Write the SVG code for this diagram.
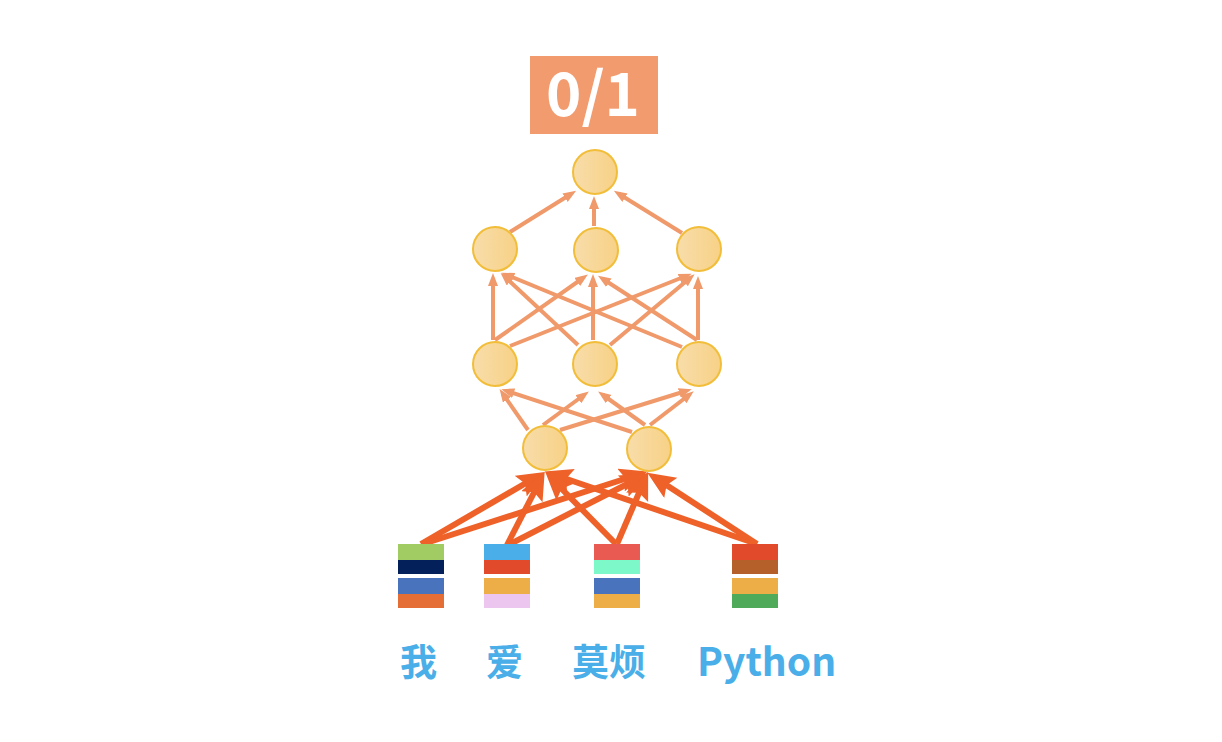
<svg xmlns="http://www.w3.org/2000/svg" width="1222" height="742" viewBox="0 0 1222 742">
<style>
.node{stroke:#F2BE3A;stroke-width:2;fill:url(#ng)}
.thin{stroke:#F0996A;stroke-width:4;fill:none;marker-end:url(#ah)}
.thick{stroke:#EE6128;stroke-width:6;fill:none;marker-end:url(#AH)}
.lbl{font-family:"Noto Sans CJK SC","Noto Sans",sans-serif;font-weight:bold;font-size:37px;fill:#4AAEE8}
</style>
<defs>
<linearGradient id="ng" x1="0" y1="0" x2="1" y2="0">
<stop offset="0" stop-color="#F8DDAA"/>
<stop offset="1" stop-color="#F7D186"/>
</linearGradient>
<marker id="ah" markerUnits="userSpaceOnUse" markerWidth="15" markerHeight="12" refX="7" refY="5" orient="auto">
<path d="M0,0 L13,5 L0,10 z" fill="#F0996A"/>
</marker>
<marker id="AH" markerUnits="userSpaceOnUse" markerWidth="30" markerHeight="26" refX="20" refY="12" orient="auto">
<path d="M0,0 L28,12 L0,24 L5,12 z" fill="#EE6128"/>
</marker>
</defs>
<rect width="1222" height="742" fill="#FFFFFF"/>
<g id="output">
<rect x="530" y="56" width="128" height="78" fill="#F29B6E"/>
<text x="593" y="116" text-anchor="middle" font-family="Noto Sans CJK SC, Noto Sans, sans-serif" font-weight="bold" font-size="60" fill="#FFFFFF">0/1</text>
</g>
<g id="connectors">
<line class="thin" x1="510" y1="232" x2="571" y2="194"/>
<line class="thin" x1="594" y1="226" x2="594" y2="202"/>
<line class="thin" x1="682" y1="233" x2="619" y2="194"/>
<line class="thin" x1="493" y1="340" x2="493" y2="279"/>
<line class="thin" x1="495" y1="340" x2="583" y2="278"/>
<line class="thin" x1="510" y1="346" x2="686" y2="276"/>
<line class="thin" x1="578" y1="345" x2="505" y2="277"/>
<line class="thin" x1="593" y1="340" x2="593" y2="280"/>
<line class="thin" x1="610" y1="345" x2="690" y2="278"/>
<line class="thin" x1="682" y1="347" x2="507" y2="275"/>
<line class="thin" x1="697" y1="340" x2="603" y2="279"/>
<line class="thin" x1="698" y1="340" x2="698" y2="282"/>
<line class="thin" x1="528" y1="430" x2="503" y2="394"/>
<line class="thin" x1="543" y1="425" x2="584" y2="395"/>
<line class="thin" x1="560" y1="430" x2="686" y2="391"/>
<line class="thin" x1="632" y1="432" x2="507" y2="391"/>
<line class="thin" x1="645" y1="425" x2="603" y2="395"/>
<line class="thin" x1="650" y1="425" x2="689" y2="395"/>
<line class="thick" x1="421" y1="544" x2="538" y2="476"/>
<line class="thick" x1="423" y1="544" x2="640" y2="474"/>
<line class="thick" x1="507" y1="545" x2="541" y2="479"/>
<line class="thick" x1="508" y1="545" x2="641" y2="477"/>
<line class="thick" x1="616" y1="544" x2="551" y2="478"/>
<line class="thick" x1="617" y1="544" x2="645" y2="479"/>
<line class="thick" x1="757" y1="544" x2="552" y2="474"/>
<line class="thick" x1="757" y1="544" x2="654" y2="477"/>
</g>
<g id="n-top"><circle class="node" cx="595" cy="172" r="22"/></g>
<g id="n-h2-1"><circle class="node" cx="495" cy="249" r="22"/></g>
<g id="n-h2-2"><circle class="node" cx="596" cy="250" r="22"/></g>
<g id="n-h2-3"><circle class="node" cx="699" cy="249" r="22"/></g>
<g id="n-h1-1"><circle class="node" cx="495" cy="364" r="22"/></g>
<g id="n-h1-2"><circle class="node" cx="595" cy="364" r="22"/></g>
<g id="n-h1-3"><circle class="node" cx="699" cy="364" r="22"/></g>
<g id="n-in-1"><circle class="node" cx="545" cy="448" r="22"/></g>
<g id="n-in-2"><circle class="node" cx="649" cy="449" r="22"/></g>
<g id="vec-wo">
<rect x="398" y="544" width="46" height="16" fill="#A0CC63"/>
<rect x="398" y="560" width="46" height="14" fill="#04205A"/>
<rect x="398" y="578" width="46" height="16" fill="#4A73BE"/>
<rect x="398" y="594" width="46" height="14" fill="#E56E36"/>
</g>
<g id="vec-ai">
<rect x="484" y="544" width="46" height="16" fill="#4AAEE8"/>
<rect x="484" y="560" width="46" height="14" fill="#E14B2B"/>
<rect x="484" y="578" width="46" height="16" fill="#EDAE47"/>
<rect x="484" y="594" width="46" height="14" fill="#EDC6F0"/>
</g>
<g id="vec-mofan">
<rect x="594" y="544" width="46" height="16" fill="#E85A52"/>
<rect x="594" y="560" width="46" height="14" fill="#7DF9C9"/>
<rect x="594" y="578" width="46" height="16" fill="#4A73BE"/>
<rect x="594" y="594" width="46" height="14" fill="#EDAE47"/>
</g>
<g id="vec-python">
<rect x="732" y="544" width="46" height="16" fill="#E14B2B"/>
<rect x="732" y="560" width="46" height="14" fill="#B5602B"/>
<rect x="732" y="578" width="46" height="16" fill="#EDAE47"/>
<rect x="732" y="594" width="46" height="14" fill="#4FAB5A"/>
</g>
<g id="labels">
<text class="lbl" x="400" y="676">我</text>
<text class="lbl" x="486" y="676">爱</text>
<text class="lbl" x="572" y="676">莫烦</text>
<text class="lbl" x="697" y="676" style="font-size:39px">Python</text>
</g>
</svg>
